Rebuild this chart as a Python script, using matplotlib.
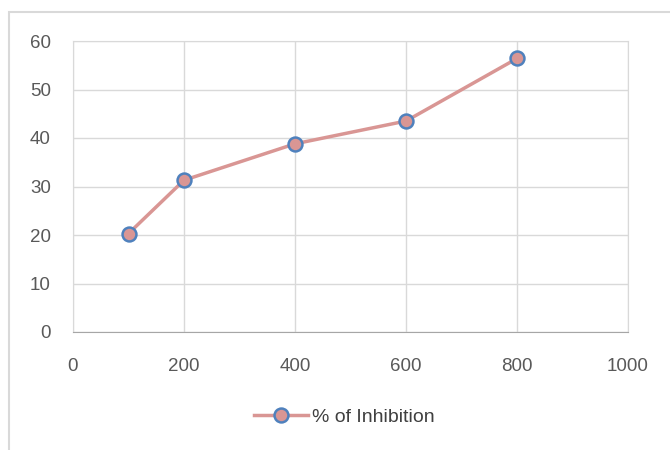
import matplotlib.pyplot as plt
from matplotlib.patches import Rectangle

# Concentration vs % inhibition
conc = [100, 200, 400, 600, 800]
inhibition = [20.3, 31.3, 38.8, 43.5, 56.4]
series_name = '% of Inhibition'

x_ticks = [0, 200, 400, 600, 800, 1000]
y_ticks = [0, 10, 20, 30, 40, 50, 60]

plt.rcParams['font.family'] = ['Liberation Sans', 'DejaVu Sans']

fig = plt.figure(figsize=(6.7, 4.5), dpi=100)

# outer chart frame (runs off the right and bottom edges)
fig.patches.append(Rectangle((9 / 670, -0.1), 1.0, 1 - 12 / 450 + 0.1,
                             transform=fig.transFigure, fill=False,
                             edgecolor='#d9d9d9', linewidth=1.5))

ax = fig.add_axes([73 / 670, 1 - 332 / 450, (628 - 73) / 670, (332 - 41) / 450])

ax.plot(conc, inhibition, color='#d99694', linewidth=2.5, marker='o',
        markersize=10, markerfacecolor='#d99694', markeredgecolor='#4f81bd',
        markeredgewidth=1.8, label=series_name, zorder=3)

ax.set_xlim(0, 1000)
ax.set_ylim(0, 60)
ax.set_xticks(x_ticks)
ax.set_yticks(y_ticks)
ax.grid(True, color='#d9d9d9', linewidth=1)
ax.set_axisbelow(True)
ax.tick_params(length=0, labelsize=13.5, labelcolor='#595959')
ax.tick_params(axis='y', pad=16)
ax.tick_params(axis='x', pad=19)

for side in ['top', 'right', 'left']:
    ax.spines[side].set_color('#d9d9d9')
ax.spines['bottom'].set_color('#a6a6a6')

leg = fig.legend(loc='center', bbox_to_anchor=(344 / 670, 1 - 417 / 450),
                 frameon=False, fontsize=14, handlelength=2.8,
                 handletextpad=0.2)
for t in leg.get_texts():
    t.set_color('#404040')

plt.savefig('out.png', dpi=100)
